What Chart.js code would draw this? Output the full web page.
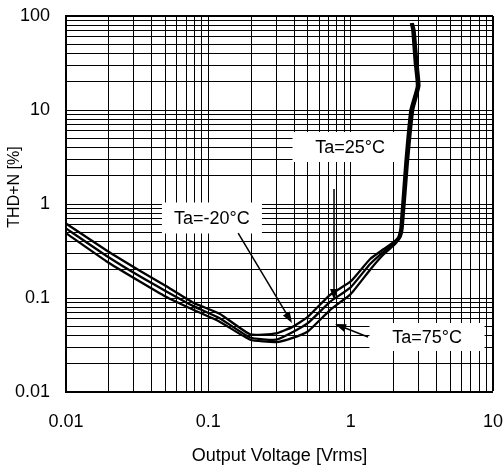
<!DOCTYPE html>
<html>
<head>
<meta charset="utf-8">
<script src="https://cdn.jsdelivr.net/npm/chart.js@4/dist/chart.umd.min.js"></script>
<style>
  body { margin: 0; background: #fff; }
  canvas { display: block; }
</style>
</head>
<body>
<canvas id="thd-chart" width="504" height="468"></canvas>
<script>
// THD+N vs output voltage, three ambient temperatures

const xTickLabels = [0.01, 0.1, 1, 10];
const yTickLabels = [0.01, 0.1, 1, 10, 100];
const seriesNames = ['Ta=-20°C', 'Ta=25°C', 'Ta=75°C'];

// Output voltage [Vrms] per curve (the steep end doubles back a little)
const voltM20 = [0.01, 0.0193, 0.033, 0.05, 0.0785, 0.12, 0.197, 0.3, 0.387, 0.5, 0.716, 1.0, 1.37, 1.7, 2.03, 2.17, 2.24, 2.42, 2.63, 2.92, 2.82, 2.71, 2.65];
const volt25  = [0.01, 0.0193, 0.033, 0.05, 0.0785, 0.12, 0.197, 0.3, 0.387, 0.5, 0.716, 1.0, 1.37, 1.7, 2.05, 2.21, 2.28, 2.47, 2.69, 2.98, 2.88, 2.76, 2.69];
const volt75  = [0.01, 0.0193, 0.033, 0.05, 0.0785, 0.12, 0.197, 0.3, 0.387, 0.5, 0.716, 1.0, 1.37, 1.7, 2.07, 2.25, 2.32, 2.52, 2.75, 3.04, 2.94, 2.81, 2.73];

// THD+N [%]
const thdM20 = [0.62, 0.32, 0.195, 0.135, 0.089, 0.068, 0.041, 0.042, 0.049, 0.063, 0.108, 0.15, 0.26, 0.33, 0.40, 0.45, 0.56, 2.7, 10, 18, 32, 71, 84];
const thd25  = [0.55, 0.28, 0.17, 0.119, 0.082, 0.061, 0.038, 0.036, 0.043, 0.054, 0.091, 0.13, 0.23, 0.31, 0.39, 0.45, 0.56, 2.7, 10, 18, 32, 71, 84];
const thd75  = [0.49, 0.245, 0.15, 0.104, 0.075, 0.056, 0.036, 0.034, 0.0375, 0.044, 0.0745, 0.11, 0.20, 0.29, 0.38, 0.45, 0.56, 2.7, 10, 18, 32, 71, 84];

// Callout labels, placed in data coordinates
const callouts = [
    { text: 'Ta=25°C',  x: 0.99,  y: 4.04,   w: 115, h: 30, from: [0.764, 1.44],  to: [0.764, 0.0953] },
    { text: 'Ta=-20°C', x: 0.106, y: 0.71,   w: 100, h: 31, from: [0.162, 0.491], to: [0.387, 0.0542] },
    { text: 'Ta=75°C',  x: 3.44,  y: 0.0385, w: 115, h: 28, from: [1.325, 0.0385], to: [0.777, 0.0528] }
];

const FONT = 'Liberation Sans, Arial, Helvetica, sans-serif';
Chart.defaults.font.family = FONT;
Chart.defaults.color = '#000';

function toPoints(xs, ys) {
    return xs.map((x, i) => ({ x: x, y: ys[i] }));
}

// 1..9 grid lines in every decade between the labelled ticks
function decadeTicks(majors) {
    const ticks = [];
    for (let i = 0; i < majors.length; i++) {
        const m = majors[i];
        if (i === majors.length - 1) {
            ticks.push({ value: m });
            break;
        }
        for (let k = 1; k <= 9; k++) {
            ticks.push({ value: Number((m * k).toPrecision(6)) });
        }
    }
    return ticks;
}

function tickText(list) {
    return function(value) {
        const hit = list.find(v => Math.abs(v - value) < v * 1e-6);
        return hit !== undefined ? String(hit) : '';
    };
}

function drawArrow(ctx, x1, y1, x2, y2) {
    const ang = Math.atan2(y2 - y1, x2 - x1);
    const len = 11, half = 4;
    ctx.beginPath();
    ctx.moveTo(x1, y1);
    ctx.lineTo(x2 - Math.cos(ang) * len * 0.8, y2 - Math.sin(ang) * len * 0.8);
    ctx.stroke();
    ctx.beginPath();
    ctx.moveTo(x2, y2);
    ctx.lineTo(x2 - Math.cos(ang) * len - Math.sin(ang) * half, y2 - Math.sin(ang) * len + Math.cos(ang) * half);
    ctx.lineTo(x2 - Math.cos(ang) * len + Math.sin(ang) * half, y2 - Math.sin(ang) * len - Math.cos(ang) * half);
    ctx.closePath();
    ctx.fill();
}

const calloutPlugin = {
    id: 'callouts',
    beforeDatasetsDraw(chart) {
        const { ctx, scales: { x, y } } = chart;
        ctx.save();
        ctx.font = '18px ' + FONT;
        ctx.textAlign = 'center';
        ctx.textBaseline = 'middle';
        callouts.forEach(c => {
            const cx = x.getPixelForValue(c.x);
            const cy = y.getPixelForValue(c.y);
            ctx.fillStyle = '#fff';
            ctx.fillRect(cx - c.w / 2, cy - c.h / 2, c.w, c.h);
            ctx.fillStyle = '#000';
            ctx.fillText(c.text, cx, cy + 1);
        });
        ctx.restore();
    },
    afterDatasetsDraw(chart) {
        const { ctx, scales: { x, y } } = chart;
        ctx.save();
        ctx.strokeStyle = '#000';
        ctx.fillStyle = '#000';
        ctx.lineWidth = 1.5;
        callouts.forEach(c => {
            drawArrow(ctx,
                x.getPixelForValue(c.from[0]), y.getPixelForValue(c.from[1]),
                x.getPixelForValue(c.to[0]), y.getPixelForValue(c.to[1]));
        });
        ctx.restore();
    },
    afterDraw(chart) {
        // y axis title sits a bit above the axis centre in the original
        const ctx = chart.ctx;
        ctx.save();
        ctx.translate(15, 187);
        ctx.rotate(-Math.PI / 2);
        ctx.font = '16px ' + FONT;
        ctx.fillStyle = '#000';
        ctx.textAlign = 'center';
        ctx.textBaseline = 'middle';
        ctx.fillText('THD+N [%]', 0, 0);
        ctx.restore();
    }
};

const lineStyle = {
    showLine: true,
    borderColor: '#000',
    backgroundColor: '#000',
    borderWidth: 2.3,
    pointRadius: 0,
    tension: 0.15,
    fill: false
};

const ctx = document.getElementById('thd-chart').getContext('2d');
new Chart(ctx, {
    type: 'scatter',
    data: {
        datasets: [
            Object.assign({ label: seriesNames[0], data: toPoints(voltM20, thdM20) }, lineStyle),
            Object.assign({ label: seriesNames[1], data: toPoints(volt25, thd25) }, lineStyle),
            Object.assign({ label: seriesNames[2], data: toPoints(volt75, thd75) }, lineStyle)
        ]
    },
    options: {
        responsive: false,
        animation: false,
        layout: { padding: { left: 0, right: 11, top: 16, bottom: 0 } },
        plugins: {
            legend: { display: false },
            tooltip: { enabled: false }
        },
        scales: {
            x: {
                type: 'logarithmic',
                min: 0.01,
                max: 10,
                afterBuildTicks: scale => { scale.ticks = decadeTicks(xTickLabels); },
                afterFit: scale => { scale.height = 76; },
                ticks: {
                    autoSkip: false,
                    maxRotation: 0,
                    padding: 1,
                    font: { size: 18 },
                    color: '#000',
                    callback: tickText(xTickLabels)
                },
                grid: {
                    color: '#000',
                    lineWidth: c => (c.tick && c.tick.value === 10) ? 2 : 1,
                    drawTicks: true,
                    tickLength: 18,
                    tickColor: 'rgba(0,0,0,0)'
                },
                border: { color: '#000', width: 2 },
                title: {
                    display: true,
                    text: 'Output Voltage [Vrms]',
                    font: { size: 18 },
                    color: '#000',
                    padding: { top: 4, bottom: 1 }
                }
            },
            y: {
                type: 'logarithmic',
                min: 0.01,
                max: 100,
                afterBuildTicks: scale => { scale.ticks = decadeTicks(yTickLabels); },
                afterFit: scale => { scale.width = 66; },
                ticks: {
                    autoSkip: false,
                    padding: 1,
                    font: { size: 18 },
                    color: '#000',
                    callback: tickText(yTickLabels)
                },
                grid: {
                    color: '#000',
                    lineWidth: c => (c.tick && c.tick.value === 100) ? 2 : 1,
                    drawTicks: true,
                    tickLength: 15,
                    tickColor: 'rgba(0,0,0,0)'
                },
                border: { color: '#000', width: 2 }
            }
        }
    },
    plugins: [calloutPlugin]
});
</script>
</body>
</html>
